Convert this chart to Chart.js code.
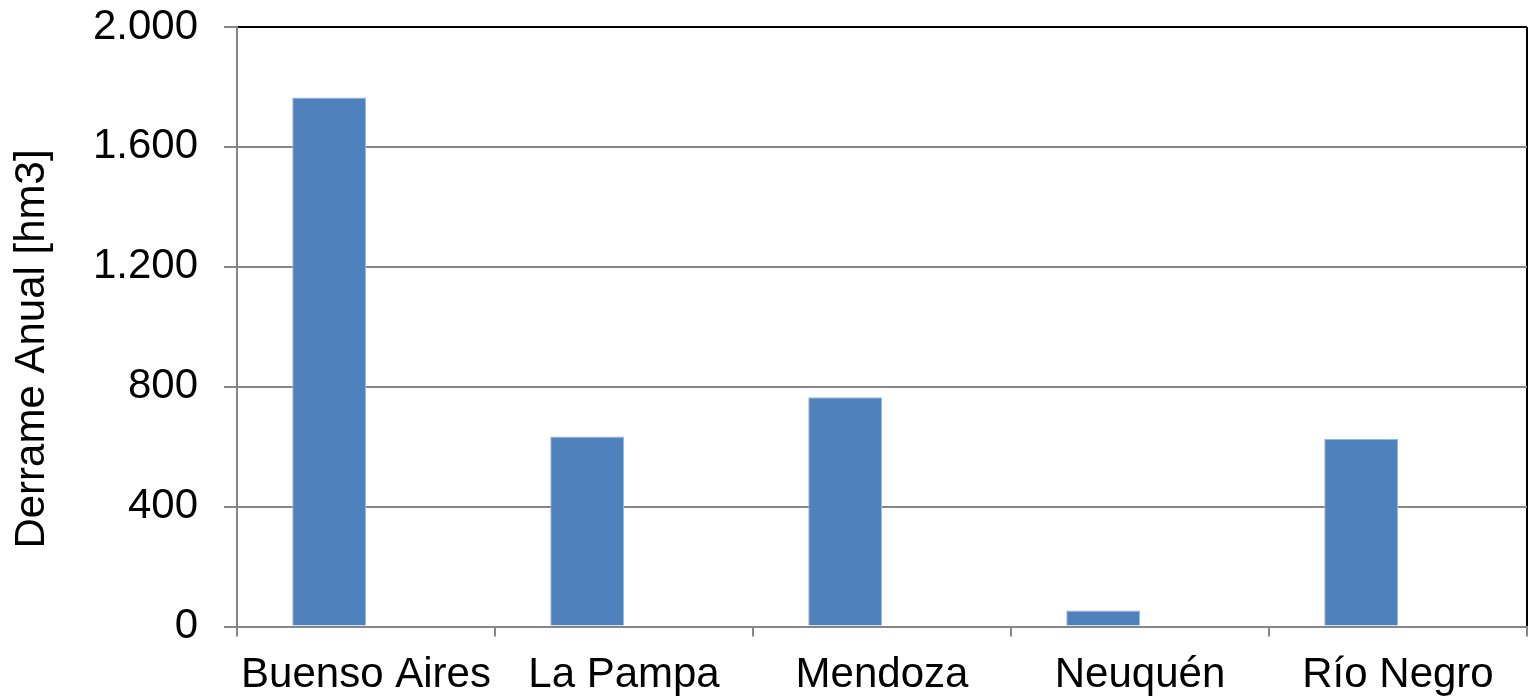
<!DOCTYPE html>
<html>
<head>
<meta charset="utf-8">
<script src="https://cdn.jsdelivr.net/npm/chart.js@4/dist/chart.umd.min.js"></script>
<style>
  html, body { margin: 0; padding: 0; background: #ffffff; }
  #wrap { width: 1531px; height: 698px; }
</style>
</head>
<body>
<div id="wrap"><canvas id="c" width="1531" height="698"></canvas></div>
<script>
const categories = ["Buenso Aires", "La Pampa", "Mendoza", "Neuquén", "Río Negro"];
const derrameAnual = [1765, 634, 765, 53, 626];
const emptySeries = [null, null, null, null, null];
const yTickValues = [0, 400, 800, 1200, 1600, 2000];
const yAxisTitle = "Derrame Anual [hm3]";

const FONT = "'Liberation Sans', Arial, sans-serif";
const GRID = "#868686";

function fmt(v) {
  return String(v).replace(/\B(?=(\d{3})+(?!\d))/g, ".");
}

new Chart(document.getElementById("c"), {
  type: "bar",
  data: {
    labels: categories,
    datasets: [
      {
        label: "Derrame Anual",
        data: derrameAnual,
        backgroundColor: "#4F81BD",
        borderColor: "#9db8dc",
        borderWidth: 1,
        categoryPercentage: 0.572,
        barPercentage: 1.0
      },
      {
        label: "",
        data: emptySeries,
        backgroundColor: "#C0504D",
        categoryPercentage: 0.572,
        barPercentage: 1.0
      }
    ]
  },
  options: {
    responsive: false,
    animation: false,
    events: [],
    layout: { padding: { top: 0, right: 4, bottom: 0, left: 0 } },
    plugins: {
      legend: { display: false },
      tooltip: { enabled: false },
      title: {
        display: true,
        position: "left",
        text: yAxisTitle,
        color: "#000000",
        font: { family: FONT, size: 42, weight: "normal", lineHeight: 1.2 },
        padding: { top: 7, bottom: 0 }
      }
    },
    scales: {
      x: {
        offset: true,
        grid: {
          offset: true,
          drawOnChartArea: true,
          drawTicks: true,
          tickLength: 10,
          lineWidth: 2,
          tickWidth: 2,
          tickColor: GRID,
          color: (ctx) => (ctx.index === undefined ? "#000000" : "rgba(0,0,0,0)")
        },
        border: { display: true, color: GRID, width: 2 },
        ticks: {
          color: "#000000",
          font: { family: FONT, size: 42, lineHeight: 1.2 },
          padding: 14,
          maxRotation: 0,
          autoSkip: false
        },
        afterFit: (scale) => {
          scale.height = 71.5;
          scale.paddingLeft = 0;
          scale.paddingRight = 0;
        }
      },
      y: {
        min: 0,
        max: 2000,
        afterBuildTicks: (scale) => {
          scale.ticks = yTickValues.map(v => ({ value: v }));
        },
        grid: {
          drawTicks: true,
          tickLength: 13,
          lineWidth: 2,
          tickWidth: 2,
          tickColor: GRID,
          color: (ctx) => (ctx.tick && ctx.tick.value === 2000 ? "#000000" : GRID)
        },
        border: { display: true, color: GRID, width: 2 },
        ticks: {
          color: "#000000",
          font: { family: FONT, size: 42, lineHeight: 1.2 },
          padding: 26,
          callback: (v) => fmt(v)
        },
        afterFit: (scale) => {
          scale.width = 237 - 57.4;
          scale.paddingTop = 27;
          scale.paddingBottom = 0;
        }
      }
    }
  }
});
</script>
</body>
</html>
